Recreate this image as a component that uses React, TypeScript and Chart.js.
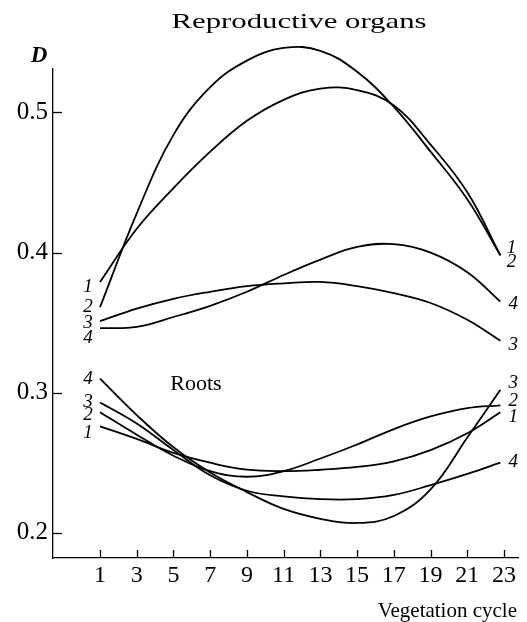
import React, { useEffect, useRef } from "react";
import { Chart, registerables } from "chart.js";
Chart.register(...registerables);

// Vegetation cycle positions where values were read
const cycles = [1, 3, 5, 7, 9, 11, 13, 15, 17, 19, 21, 22.8];

// Reproductive organs
const reproductive1 = [0.379, 0.417, 0.446, 0.472, 0.494, 0.509, 0.517, 0.516, 0.505, 0.477, 0.443, 0.398];
const reproductive2 = [0.361, 0.428, 0.484, 0.518, 0.537, 0.546, 0.544, 0.529, 0.504, 0.472, 0.438, 0.398];
const reproductive3 = [0.351, 0.36, 0.367, 0.372, 0.376, 0.378, 0.379, 0.376, 0.371, 0.364, 0.352, 0.337];
const reproductive4 = [0.346, 0.347, 0.354, 0.362, 0.372, 0.384, 0.395, 0.404, 0.406, 0.4, 0.386, 0.365];

// Roots
const rootsA = [0.31, 0.284, 0.261, 0.243, 0.229, 0.217, 0.21, 0.207, 0.212, 0.231, 0.268, 0.302];
const rootsB = [0.293, 0.278, 0.259, 0.241, 0.23, 0.226, 0.224, 0.224, 0.227, 0.234, 0.242, 0.25];
const rootsC = [0.286, 0.27, 0.255, 0.244, 0.24, 0.244, 0.253, 0.263, 0.274, 0.283, 0.289, 0.291];
const rootsD = [0.276, 0.267, 0.257, 0.25, 0.245, 0.244, 0.245, 0.247, 0.251, 0.259, 0.271, 0.286];

const seriesNames = ["Reproductive 1", "Reproductive 2", "Reproductive 3", "Reproductive 4", "Roots 4/3", "Roots 3/4", "Roots 2", "Roots 1"];
const seriesValues = [reproductive1, reproductive2, reproductive3, reproductive4, rootsA, rootsB, rootsC, rootsD];

const xTickValues = [1, 3, 5, 7, 9, 11, 13, 15, 17, 19, 21, 23];
const yTickValues = [0.2, 0.3, 0.4, 0.5];

// Curve number labels: text, cycle position, D position
const curveLabelTexts = ["1", "2", "3", "4", "4", "3", "2", "1", "1", "2", "4", "3", "3", "2", "1", "4"];
const curveLabelX = [0.35, 0.35, 0.35, 0.35, 0.35, 0.35, 0.35, 0.35, 23.4, 23.4, 23.5, 23.5, 23.5, 23.5, 23.5, 23.5];
const curveLabelY = [0.3757, 0.3614, 0.35, 0.3393, 0.31, 0.2936, 0.2843, 0.2714, 0.4036, 0.3929, 0.3636, 0.3343, 0.3071, 0.2943, 0.2829, 0.2507];

const SERIF = '"Liberation Serif", "Times New Roman", serif';

const decor = {
  id: "decor",
  afterDraw(chart: any) {
    const { ctx, scales, chartArea } = chart;
    const xs = scales.x;
    const ys = scales.y;
    ctx.save();
    ctx.strokeStyle = "#000";
    ctx.lineWidth = 1.3;
    xTickValues.forEach((v) => {
      const px = Math.round(xs.getPixelForValue(v)) + 0.5;
      ctx.beginPath();
      ctx.moveTo(px, chartArea.bottom);
      ctx.lineTo(px, chartArea.bottom - 8);
      ctx.stroke();
    });
    yTickValues.forEach((v) => {
      const py = Math.round(ys.getPixelForValue(v)) + 0.5;
      ctx.beginPath();
      ctx.moveTo(chartArea.left, py);
      ctx.lineTo(chartArea.left + 9, py);
      ctx.stroke();
    });
    ctx.fillStyle = "#000";
    ctx.font = "italic 19px " + SERIF;
    ctx.textAlign = "center";
    ctx.textBaseline = "middle";
    curveLabelTexts.forEach((t, i) => {
      ctx.fillText(t, xs.getPixelForValue(curveLabelX[i]), ys.getPixelForValue(curveLabelY[i]));
    });
    ctx.font = "22px " + SERIF;
    const title = "Reproductive organs";
    const w = ctx.measureText(title).width;
    ctx.save();
    ctx.translate(299, 28);
    ctx.scale(255 / w, 1);
    ctx.textAlign = "center";
    ctx.textBaseline = "alphabetic";
    ctx.fillText(title, 0, 0);
    ctx.restore();
    ctx.font = "22px " + SERIF;
    ctx.textAlign = "center";
    ctx.textBaseline = "alphabetic";
    ctx.fillText("Roots", 196, 390);
    ctx.font = "italic bold 23px " + SERIF;
    ctx.fillText("D", 39, 62);
    ctx.font = "21px " + SERIF;
    ctx.textAlign = "right";
    ctx.fillText("Vegetation cycle", 517, 617);
    ctx.restore();
  },
};

export default function App() {
  const ref = useRef<HTMLCanvasElement>(null);
  useEffect(() => {
    document.body.style.margin = "0";
    const canvas = ref.current!;
    const chart = new Chart(canvas, {
      type: "line",
      data: {
        datasets: seriesValues.map((vals, i) => ({
          label: seriesNames[i],
          data: cycles.map((c, j) => ({ x: c, y: vals[j] })),
          borderColor: "#000",
          borderWidth: 1.8,
          pointRadius: 0,
          fill: false,
          tension: 0.4,
          clip: false,
        })),
      },
      options: {
        responsive: false,
        animation: false,
        devicePixelRatio: 1,
        layout: { padding: { top: 69, right: 9, left: 0, bottom: 0 } },
        plugins: { legend: { display: false }, tooltip: { enabled: false } },
        scales: {
          x: {
            type: "linear",
            min: -1.56,
            max: 23.76,
            afterFit: (s: any) => {
              s.height = 64;
            },
            afterBuildTicks: (s: any) => {
              s.ticks = xTickValues.map((v) => ({ value: v }));
            },
            grid: { display: false, drawTicks: false },
            border: { display: true, color: "#000", width: 1.3 },
            ticks: {
              color: "#000",
              font: { family: SERIF, size: 24 },
              padding: 3,
              autoSkip: false,
              maxRotation: 0,
              callback: (v: any) => String(v),
            },
          },
          y: {
            type: "linear",
            min: 0.182,
            max: 0.531,
            afterFit: (s: any) => {
              s.width = 53;
            },
            afterBuildTicks: (s: any) => {
              s.ticks = yTickValues.map((v) => ({ value: v }));
            },
            grid: { display: false, drawTicks: false },
            border: { display: true, color: "#000", width: 1.3 },
            ticks: {
              color: "#000",
              font: { family: SERIF, size: 25 },
              padding: 5,
              callback: (v: any) => Number(v).toFixed(1),
            },
          },
        },
      },
      plugins: [decor],
    } as any);
    return () => chart.destroy();
  }, []);
  return <canvas ref={ref} width={527} height={622} style={{ display: "block" }} />;
}
